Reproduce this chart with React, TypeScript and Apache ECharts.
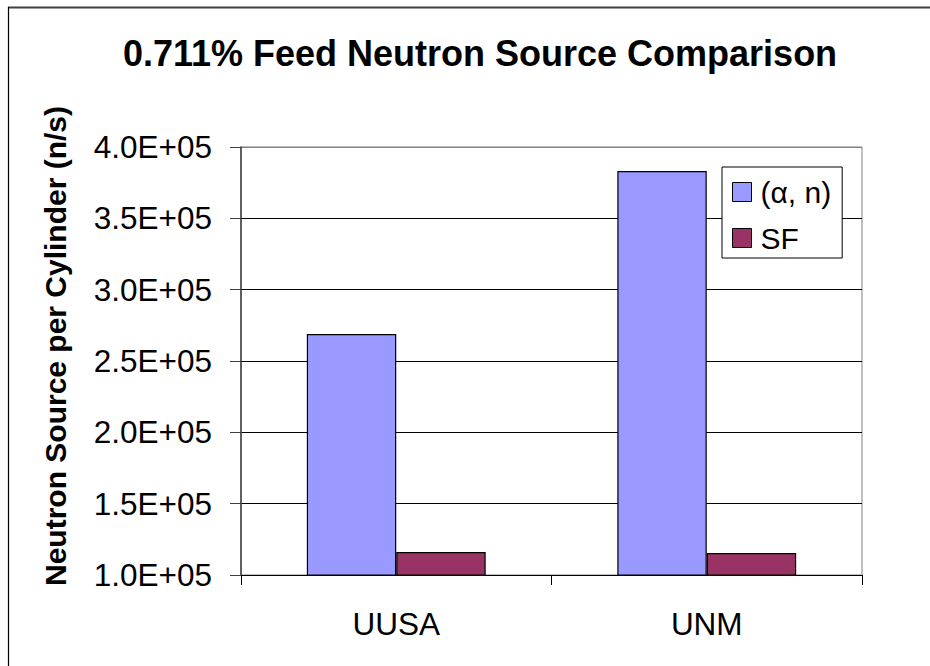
import React, { useEffect, useRef } from "react";
import * as echarts from "echarts";

const categories = ["UUSA", "UNM"];
const alphaN = [268900, 383200];
const sf = [116100, 115400];
const seriesNames = ["(α, n)", "SF"];
const yMin = 100000;
const yMax = 400000;
const yInterval = 50000;
const titleText = "0.711% Feed Neutron Source Comparison";
const yAxisTitle = "Neutron Source per Cylinder (n/s)";

const FONT = "Liberation Sans, Arial, sans-serif";

export default function App() {
  const ref = useRef<HTMLDivElement>(null);
  useEffect(() => {
    if (!ref.current) return;
    const chart = echarts.init(ref.current, null, { renderer: "svg" });
    chart.setOption({
      animation: false,
      backgroundColor: "#ffffff",
      title: {
        text: titleText,
        left: 475,
        textAlign: "center",
        top: 30,
        textStyle: { fontFamily: FONT, fontSize: 36, fontWeight: "bold", color: "#000" },
      },
      legend: {
        orient: "vertical",
        left: 722,
        top: 167,
        padding: [10, 11, 5, 10],
        itemWidth: 19,
        itemHeight: 19,
        itemGap: 16,
        itemStyle: { borderColor: "#000", borderWidth: 1 },
        borderColor: "#000",
        borderWidth: 1,
        backgroundColor: "#fff",
        textStyle: { fontFamily: FONT, fontSize: 30, color: "#000", lineHeight: 30, padding: [0, 0, 0, 4] },
        icon: "rect",
        data: seriesNames,
      },
      grid: {
        left: 241,
        right: 68,
        top: 147,
        bottom: 91,
        show: true,
        borderColor: "#808080",
        borderWidth: 1,
      },
      xAxis: {
        type: "category",
        data: categories,
        axisLine: { lineStyle: { color: "#000", width: 1 } },
        axisTick: { show: true, length: 10, lineStyle: { color: "#000" } },
        axisLabel: { fontFamily: FONT, fontSize: 31.5, color: "#000", margin: 33 },
      },
      yAxis: {
        type: "value",
        min: yMin,
        max: yMax,
        interval: yInterval,
        axisLine: { show: true, lineStyle: { color: "#404040", width: 1.5 } },
        axisTick: { show: true, length: 11, lineStyle: { color: "#404040" } },
        axisLabel: {
          fontFamily: FONT,
          fontSize: 31.5,
          color: "#000",
          margin: 29,
          formatter: (v: number) => (v / 1e5).toFixed(1) + "E+05",
        },
        splitLine: {
          show: true,
          lineStyle: {
            color: ["#000", "#000", "#000", "#000", "#000", "#000", "#808080"],
            width: 1,
          },
        },
      },
      series: [
        {
          name: seriesNames[0],
          type: "bar",
          data: alphaN,
          barGap: "0%",
          barCategoryGap: "42.4%",
          itemStyle: { color: "#9999FF", borderColor: "#000", borderWidth: 1.2 },
        },
        {
          name: seriesNames[1],
          type: "bar",
          data: sf,
          barGap: "0%",
          barCategoryGap: "42.4%",
          itemStyle: { color: "#993366", borderColor: "#000", borderWidth: 1.2 },
        },
      ],
      graphic: [
        {
          type: "text",
          x: 55,
          y: 346,
          rotation: Math.PI / 2,
          style: {
            text: yAxisTitle,
            fontFamily: FONT,
            fontSize: 30,
            fontWeight: "bold",
            fill: "#000",
            align: "center",
            verticalAlign: "middle",
          },
        },
        {
          type: "line",
          shape: { x1: 8, y1: 7.5, x2: 930, y2: 7.5 },
          style: { stroke: "#404040", lineWidth: 2 },
        },
        {
          type: "line",
          shape: { x1: 8.5, y1: 7, x2: 8.5, y2: 666 },
          style: { stroke: "#000", lineWidth: 1.2 },
        },
      ],
    });
    return () => chart.dispose();
  }, []);
  return (
    <div
      ref={ref}
      style={{ position: "absolute", left: 0, top: 0, width: 930, height: 666 }}
    />
  );
}
